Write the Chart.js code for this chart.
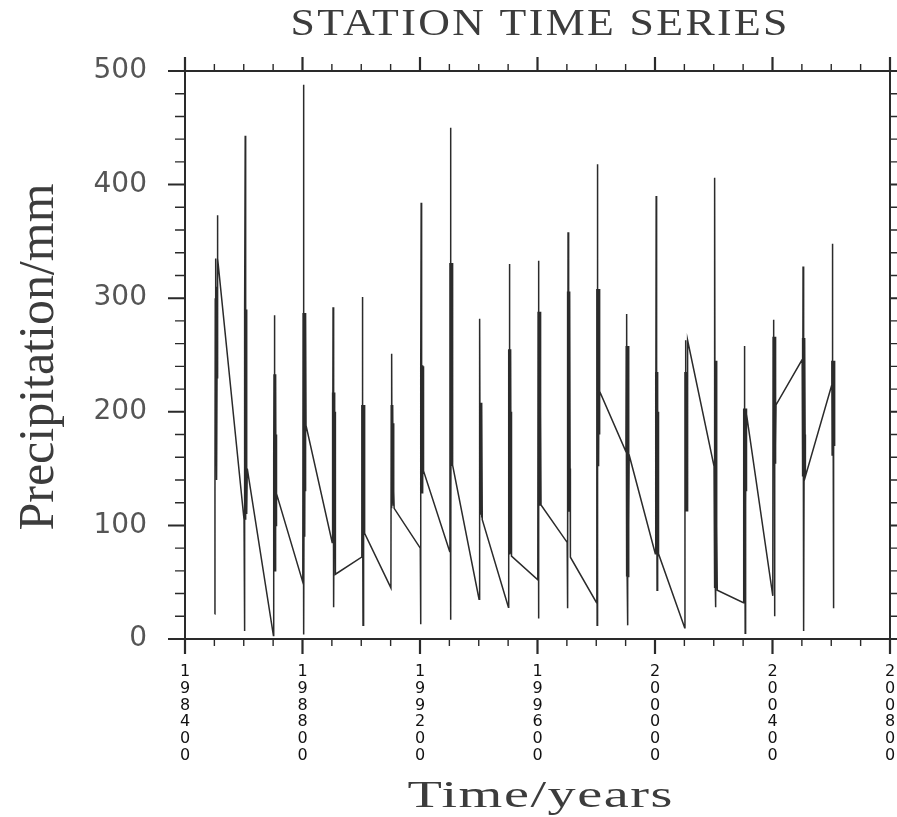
<!DOCTYPE html>
<html>
<head>
<meta charset="utf-8">
<title>Station time series</title>
<script src="https://cdn.jsdelivr.net/npm/chart.js@4.4.1/dist/chart.umd.min.js"></script>
<style>
  body { margin: 0; background: #fff; }
  canvas { display: block; }
</style>
</head>
<body>
<canvas id="chartPlace" width="897" height="817"></canvas>
<script>
/* years on the x axis, x = year*100 + month (NCL style yyyymm) */
var years = [1985, 1986, 1987, 1988, 1989, 1990, 1991, 1992, 1993, 1994, 1995,
             1996, 1997, 1998, 1999, 2000, 2001, 2002, 2003, 2004, 2005, 2006];
var months = [1, 2, 3, 4, 5, 6, 7, 8, 9, 10, 11, 12];

/* monthly precipitation (mm), one row per year, Jan..Dec */
var rain = [
  [22, 128, 300, 230, 335, 240, 310, 140, 230, 335, 373, 335],
  [105, 260, 7, 290, 443, 200, 105, 290, 150, 230, 110, 150],
  [3, 160, 233, 285, 160, 230, 60, 157, 233, 100, 180, 128],
  [50, 287, 83, 488, 4, 200, 287, 90, 250, 130, 287, 188],
  [85, 217, 110, 292, 107, 215, 28, 150, 217, 107, 200, 57],
  [72, 206, 135, 301, 140, 12, 206, 135, 200, 140, 206, 93],
  [45, 206, 115, 251, 120, 206, 140, 206, 118, 190, 130, 115],
  [80, 13, 241, 384, 150, 128, 241, 140, 200, 128, 240, 148],
  [77, 331, 153, 450, 17, 300, 160, 331, 153, 250, 331, 153],
  [35, 208, 107, 282, 110, 208, 120, 200, 107, 180, 208, 105],
  [28, 255, 75, 330, 80, 255, 150, 75, 255, 120, 200, 73],
  [52, 288, 18, 333, 120, 288, 130, 250, 118, 288, 200, 118],
  [85, 306, 27, 358, 112, 306, 130, 250, 112, 306, 150, 72],
  [32, 308, 12, 418, 152, 308, 160, 250, 152, 308, 180, 218],
  [165, 258, 55, 286, 60, 258, 12, 200, 55, 258, 100, 162],
  [75, 235, 142, 390, 145, 235, 43, 142, 235, 150, 200, 75],
  [10, 235, 113, 263, 115, 235, 120, 200, 113, 235, 150, 263],
  [152, 245, 45, 406, 50, 245, 28, 200, 45, 245, 100, 43],
  [32, 203, 117, 258, 120, 203, 5, 150, 117, 203, 130, 198],
  [38, 266, 155, 281, 160, 266, 20, 200, 155, 266, 170, 206],
  [246, 265, 143, 328, 150, 265, 7, 200, 143, 265, 180, 143],
  [223, 245, 162, 348, 165, 245, 27, 200, 162, 245, 170, 190]
];

var xMin = 198400, xMax = 200800, xMajor = 400, xMinor = 100;
var yMin = 0, yMax = 500, yMajor = 100, yMinor = 20;

var titleText = "STATION TIME SERIES";
var xTitleText = "Time/years";
var yTitleText = "Precipitation/mm";

var points = [];
for (var i = 0; i < years.length; i++) {
  for (var m = 0; m < months.length; m++) {
    points.push({ x: years[i] * 100 + months[m], y: rain[i][m] });
  }
}

/* frame + outward minor/major ticks on all four sides */
var frameTicks = {
  id: 'frameTicks',
  afterDraw: function (chart) {
    var ctx = chart.ctx;
    var a = chart.chartArea;
    var xs = chart.scales.x, ys = chart.scales.y;
    ctx.save();
    ctx.strokeStyle = '#2a2a2a';
    for (var v = xMin; v <= xMax; v += xMinor) {
      var px = xs.getPixelForValue(v);
      var major = (v - xMin) % xMajor == 0;
      ctx.lineWidth = major ? 2.2 : 1.4;
      ctx.beginPath();
      ctx.moveTo(px, a.bottom); ctx.lineTo(px, a.bottom + (major ? 15 : 7));
      ctx.moveTo(px, a.top); ctx.lineTo(px, a.top - (major ? 14 : 7));
      ctx.stroke();
    }
    for (var w = yMin; w <= yMax; w += yMinor) {
      var py = ys.getPixelForValue(w);
      var big = (w - yMin) % yMajor == 0;
      ctx.lineWidth = big ? 2 : 1.4;
      ctx.beginPath();
      ctx.moveTo(a.left, py); ctx.lineTo(a.left - (big ? 17 : 10), py);
      ctx.moveTo(a.right, py); ctx.lineTo(a.right + (big ? 10 : 7), py);
      ctx.stroke();
    }
    ctx.lineWidth = 2;
    ctx.strokeRect(a.left, a.top, a.right - a.left, a.bottom - a.top);
    ctx.restore();
  }
};

/* wide NCL-like titles, spaced and stretched to the width they have in the picture */
function wideText(ctx, text, cx, cy, size, width, height, spacing, rotate) {
  ctx.save();
  ctx.font = size + 'px "Liberation Serif", serif';
  ctx.fillStyle = '#3c3c3c';
  ctx.textAlign = 'center';
  ctx.textBaseline = 'alphabetic';
  ctx.letterSpacing = spacing + 'px';
  var wid = ctx.measureText(text).width - spacing;
  ctx.translate(cx, cy);
  if (rotate) ctx.rotate(-Math.PI / 2);
  ctx.scale(width / wid, height);
  ctx.fillText(text, spacing / 2, 0);
  ctx.restore();
}

var titles = {
  id: 'titles',
  afterDraw: function (chart) {
    var ctx = chart.ctx;
    wideText(ctx, titleText, 539, 35, 37, 497, 1, 2, false);
    wideText(ctx, xTitleText, 540, 807, 37, 265, 1, 1, false);
    wideText(ctx, yTitleText, 53, 357, 37, 347, 1.35, 0, true);
  }
};

var chartPlace = document.getElementById('chartPlace').getContext('2d');
var chartRain = new Chart(chartPlace, {
  type: 'line',
  data: {
    datasets: [{
      label: 'precipitation',
      data: points,
      borderColor: '#2b2b2b',
      borderWidth: 1.5,
      pointRadius: 0,
      tension: 0,
      fill: false
    }]
  },
  options: {
    responsive: false,
    animation: false,
    layout: { padding: { top: 71, right: 7, left: 0, bottom: 0 } },
    plugins: {
      legend: { display: false },
      title: { display: false },
      tooltip: { enabled: false }
    },
    scales: {
      x: {
        type: 'linear',
        min: xMin,
        max: xMax,
        grid: { display: false, drawTicks: false },
        border: { display: false },
        afterFit: function (scale) {
          scale.height = 178;
          scale.paddingLeft = 0;
          scale.paddingRight = 0;
        },
        ticks: {
          stepSize: xMajor,
          autoSkip: false,
          maxRotation: 0,
          padding: 25,
          color: '#111',
          font: { family: '"DejaVu Sans", sans-serif', size: 16, lineHeight: 1.04 },
          callback: function (value) { return String(value).split(''); }
        }
      },
      y: {
        min: yMin,
        max: yMax,
        grid: { display: false, drawTicks: false },
        border: { display: false },
        afterFit: function (scale) {
          scale.width = 185;
          scale.paddingTop = 0;
          scale.paddingBottom = 0;
        },
        ticks: {
          stepSize: yMajor,
          padding: 38,
          color: '#555',
          font: { family: '"DejaVu Sans", sans-serif', size: 28 }
        }
      }
    }
  },
  plugins: [frameTicks, titles]
});
</script>
</body>
</html>
